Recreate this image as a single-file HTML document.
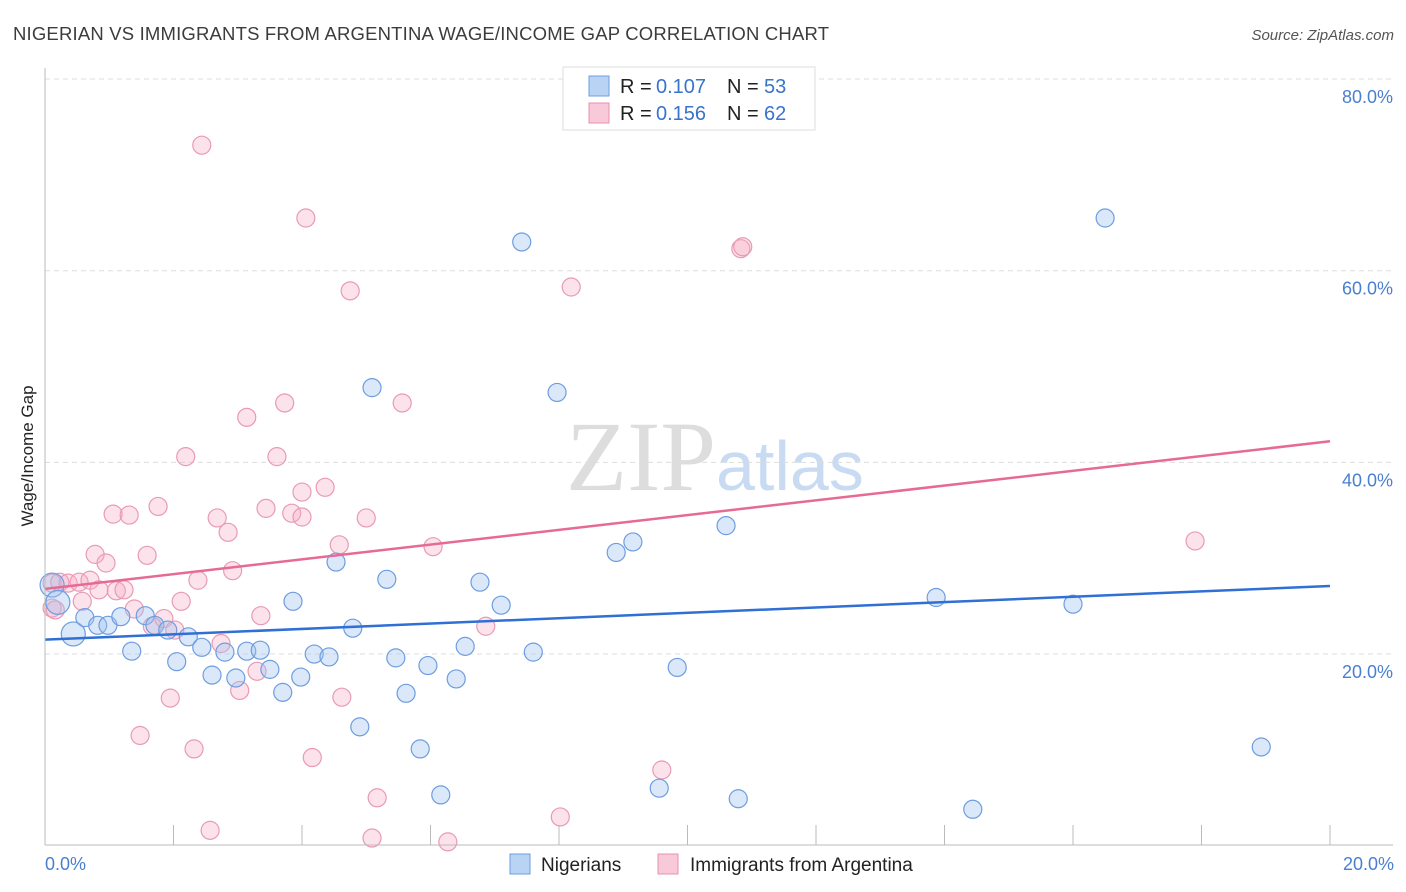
<!DOCTYPE html>
<html><head><meta charset="utf-8"><style>
body{margin:0;background:#fff;font-family:"Liberation Sans",sans-serif;}
</style></head><body>
<svg id="chart" width="1406" height="892" style="display:block">
<text x="13" y="40" font-size="18.5" fill="#3c3c3c" textLength="816">NIGERIAN VS IMMIGRANTS FROM ARGENTINA WAGE/INCOME GAP CORRELATION CHART</text>
<text x="1394" y="40" font-size="15" fill="#555" font-style="italic" text-anchor="end">Source: ZipAtlas.com</text>
<text x="0" y="0" transform="translate(33,456) rotate(-90)" font-size="17" fill="#222" text-anchor="middle">Wage/Income Gap</text>
<text x="716" y="490" font-family="Liberation Serif,serif" font-size="100" fill="#ddd" text-anchor="end">ZIP</text>
<text x="716" y="490" font-size="70" fill="#c9dbf2">atlas</text>
<g id="grid"></g><g id="pts"></g><g id="lines"></g>
<line x1="45" y1="68" x2="45" y2="845" stroke="#bbb"/>
<line x1="45" y1="845" x2="1393" y2="845" stroke="#bbb"/>
<text x="45" y="870" font-size="18" fill="#4a7fd0">0.0%</text>
<text x="1394" y="870" font-size="18" fill="#4a7fd0" text-anchor="end">20.0%</text>
<g>
<rect x="563" y="67" width="252" height="63" fill="#fff" stroke="#ddd"/>
<rect x="589" y="76" width="20" height="20" fill="#b9d3f5" stroke="#6d9de0"/>
<rect x="589" y="103" width="20" height="20" fill="#f8c9d8" stroke="#e890ae"/>
<text x="620" y="93" font-size="20" fill="#222">R = </text><text x="656" y="93" font-size="20" fill="#3a73cc">0.107</text>
<text x="727" y="93" font-size="20" fill="#222">N = </text><text x="764" y="93" font-size="20" fill="#3a73cc">53</text>
<text x="620" y="120" font-size="20" fill="#222">R = </text><text x="656" y="120" font-size="20" fill="#3a73cc">0.156</text>
<text x="727" y="120" font-size="20" fill="#222">N = </text><text x="764" y="120" font-size="20" fill="#3a73cc">62</text>
</g>
<g>
<rect x="510" y="854" width="20" height="20" fill="#b9d3f5" stroke="#6d9de0"/>
<text x="541" y="871" font-size="19" fill="#222">Nigerians</text>
<rect x="658" y="854" width="20" height="20" fill="#f8c9d8" stroke="#e890ae"/>
<text x="690" y="871" font-size="19" fill="#222">Immigrants from Argentina</text>
</g>
</svg>
<script>
const yTicks=[20,40,60,80];
const yTickLabels=["20.0%","40.0%","60.0%","80.0%"];
const xTicks=[0,2,4,6,8,10,12,14,16,18,20];
const blueX=[0.11,0.2,0.44,0.62,0.82,0.98,1.18,1.35,1.56,1.71,1.91,2.05,2.23,2.44,2.6,2.8,2.97,3.14,3.35,3.5,3.7,3.86,3.98,4.19,4.42,4.53,4.79,4.9,5.09,5.32,5.46,5.62,5.84,5.96,6.16,6.4,6.54,6.77,7.1,7.42,7.6,7.97,8.89,9.15,9.56,9.84,10.6,10.79,13.87,14.44,16.0,16.5,18.93];
const blueY=[27.2,25.4,22.1,23.8,23.0,23.0,23.9,20.3,24.0,23.0,22.5,19.2,21.8,20.7,17.8,20.2,17.5,20.3,20.4,18.4,16.0,25.5,17.6,20.0,19.7,29.6,22.7,12.4,47.8,27.8,19.6,15.9,10.1,18.8,5.3,17.4,20.8,27.5,25.1,63.0,20.2,47.3,30.6,31.7,6.0,18.6,33.4,4.9,25.9,3.8,25.2,65.5,10.3];
const pinkX=[2.44,4.06,4.75,8.19,10.83,10.86,3.14,3.73,5.56,2.19,3.61,4.0,4.36,1.76,1.06,1.31,2.68,3.44,3.84,4.0,5.0,2.85,4.58,6.04,0.78,1.59,0.95,2.92,17.9,0.11,0.23,0.36,0.53,0.7,0.84,1.11,1.23,2.38,0.58,0.11,0.16,1.39,2.12,1.85,1.67,2.02,3.36,2.74,6.86,3.3,3.03,1.95,4.62,1.48,2.32,4.16,9.6,5.17,2.57,8.02,5.09,6.27];
const pinkY=[73.1,65.5,57.9,58.3,62.3,62.5,44.7,46.2,46.2,40.6,40.6,36.9,37.4,35.4,34.6,34.5,34.2,35.2,34.7,34.3,34.2,32.7,31.4,31.2,30.4,30.3,29.5,28.7,31.8,27.4,27.5,27.4,27.5,27.7,26.7,26.6,26.7,27.7,25.5,24.8,24.6,24.7,25.5,23.7,22.9,22.5,24.0,21.1,22.9,18.2,16.2,15.4,15.5,11.5,10.1,9.2,7.9,5.0,1.6,3.0,0.8,0.4];
const blueTrend=[21.5,27.1];
const pinkTrend=[26.8,42.2];
const NS="http://www.w3.org/2000/svg";
const sx=v=>45+v/20*1285;
const sy=v=>845.7-v*9.583;
function mk(t,a,p){const e=document.createElementNS(NS,t);for(const k in a)e.setAttribute(k,a[k]);p.appendChild(e);return e;}
const grid=document.getElementById('grid');
yTicks.forEach((t,i)=>{
 const l=mk('line',{x1:45,x2:1393,y1:sy(t),y2:sy(t),stroke:'#ddd','stroke-dasharray':'5,4'},grid);
 
 
 const tx=mk('text',{x:1393,y:sy(t)+24,'font-size':18,fill:'#4a7fd0','text-anchor':'end'},grid);
 tx.textContent=yTickLabels[i];
 
 
});
xTicks.forEach(t=>{
 const l=mk('line',{x1:sx(t),x2:sx(t),y1:825,y2:845,stroke:'#bbb'},grid);
 
 
});
const pts=document.getElementById('pts');
pinkX.forEach((x,i)=>{
 const c=mk('circle',{cx:sx(x),cy:sy(pinkY[i]),r:9,fill:'rgba(245,170,195,0.33)',stroke:'#e99ab4','stroke-width':1.2},pts);
 
 
});
blueX.forEach((x,i)=>{
 const r=i<3?12:9;
 const c=mk('circle',{cx:sx(x),cy:sy(blueY[i]),r:r,fill:'rgba(160,195,240,0.38)',stroke:'#6d9de0','stroke-width':1.2},pts);
 
 
});
const lines=document.getElementById('lines');
const bl=mk('line',{x1:sx(0),x2:sx(20),y1:sy(blueTrend[0]),y2:sy(blueTrend[1]),stroke:'#2f6fd6','stroke-width':2.5},lines);


const pl=mk('line',{x1:sx(0),x2:sx(20),y1:sy(pinkTrend[0]),y2:sy(pinkTrend[1]),stroke:'#e66a94','stroke-width':2.5},lines);


</script>
</body></html>
